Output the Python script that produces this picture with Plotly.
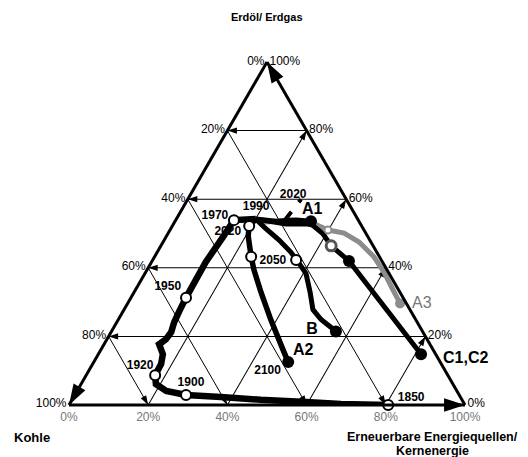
import plotly.graph_objects as go

FONT = "Liberation Sans, Arial, sans-serif"

# ---- data: (Erdöl/Erdgas, Kohle, Erneuerbare/Kernenergie) in % ----
hist_oil  = [0.0, 0.3, 0.9, 1.5, 2.3, 2.9, 4.1, 6.1, 8.7, 11.9, 14.8, 17.7, 19.1, 21.2, 24.1, 27.2, 31.3, 41.7, 49.0, 53.9, 54.2]
hist_coal = [19.4, 31.2, 39.7, 50.8, 60.5, 69.0, 73.4, 75.0, 73.9, 70.8, 68.9, 68.4, 66.0, 63.6, 61.4, 58.6, 54.8, 44.6, 36.6, 31.4, 25.7]
hist_ren  = [80.6, 68.5, 59.4, 47.7, 37.2, 28.1, 22.5, 18.9, 17.4, 17.3, 16.3, 13.9, 14.9, 15.2, 14.5, 14.2, 13.9, 13.7, 14.4, 14.7, 20.1]
hist_years_oil  = [0.0, 2.9, 8.7, 31.3, 53.9]
hist_years_coal = [19.4, 69.0, 73.9, 54.8, 31.4]
hist_years_ren  = [80.6, 28.1, 17.4, 13.9, 14.7]

a2_oil  = [54.2, 52.2, 49.3, 43.2, 39.4, 32.8, 24.9, 16.8, 12.5]
a2_coal = [25.7, 28.4, 30.1, 32.4, 33.6, 35.1, 36.6, 37.8, 38.4]
a2_ren  = [20.1, 19.4, 20.6, 24.4, 27.0, 32.1, 38.5, 45.4, 49.1]

b_oil  = [54.2, 51.6, 48.1, 44.6, 41.7, 38.3, 32.8, 27.8, 24.9, 22.6, 21.4]
b_coal = [25.7, 24.7, 22.9, 21.7, 21.3, 21.0, 22.7, 24.5, 23.9, 22.5, 21.9]
b_ren  = [20.1, 23.7, 29.0, 33.7, 37.0, 40.7, 44.5, 47.7, 51.2, 54.9, 56.7]

a1_oil  = [54.2, 53.6, 53.9, 53.6]
a1_coal = [25.7, 20.9, 15.7, 12.1]
a1_ren  = [20.1, 25.5, 30.4, 34.3]
a1d_oil  = [53.6, 60.0]
a1d_coal = [18.9, 11.4]
a1d_ren  = [27.5, 28.6]

c_oil  = [54.2, 52.8, 52.8, 49.9, 46.4, 42.0, 14.8]
c_coal = [25.7, 18.8, 12.5, 10.9, 10.6, 8.3, 3.7]
c_ren  = [20.1, 28.4, 34.7, 39.2, 43.0, 49.7, 81.5]

a3_oil  = [53.3, 53.9, 53.3, 51.0, 50.1, 47.5, 43.2, 38.6, 33.6, 29.6]
a3_coal = [24.4, 17.0, 12.3, 9.1, 5.5, 3.0, 1.4, 1.1, 1.4, 1.6]
a3_ren  = [22.3, 29.1, 34.4, 39.9, 44.4, 49.5, 55.4, 60.3, 65.0, 68.8]

# open circles of scenarios (2020 / 2050)
open_oil  = [52.2, 43.2, 42.3]
open_coal = [28.4, 32.4, 21.5]
open_ren  = [19.4, 24.4, 36.2]
# filled end points (2100)
end_oil  = [12.5, 21.4, 53.6, 42.0, 14.8]
end_coal = [38.4, 21.9, 12.1, 8.3, 3.7]
end_ren  = [49.1, 56.7, 34.3, 49.7, 81.5]

# year labels (label centres)
yl_text = ["1850", "1900", "1920", "1950", "1970", "1990", "2020", "2020", "2050", "2100"]
yl_oil  = [2.0, 6.4, 11.3, 34.5, 55.1, 57.7, 50.4, 61.2, 42.0, 9.9]
yl_coal = [12.6, 66.0, 76.4, 57.8, 35.6, 23.9, 34.7, 12.8, 27.5, 44.9]
yl_ren  = [85.4, 27.6, 12.3, 7.7, 9.3, 18.4, 14.9, 26.0, 30.5, 45.2]

sc_text = ["A1", "A2", "B"]
sc_oil  = [56.8, 15.7, 22.0]
sc_coal = [10.2, 33.0, 27.6]
sc_ren  = [33.0, 51.3, 50.4]

ticks = [0, 20, 40, 60, 80, 100]
tick_text_rev = ["100%", "80%", "60%", "40%", "20%", "0%"]
grid_k = [20, 40, 60, 80]

fig = go.Figure()

def line(a, b, c, color="black", width=5, dash="solid"):
    fig.add_trace(go.Scatterternary(a=a, b=b, c=c, mode="lines",
                                    line=dict(color=color, width=width, dash=dash),
                                    hoverinfo="skip", cliponaxis=False))

# grid arrowheads
arr_a, arr_b, arr_c, arr_ang = [], [], [], []
for k in grid_k:
    arr_a.append(k); arr_b.append(100 - k); arr_c.append(0); arr_ang.append(270)   # horizontal lines -> left edge
    arr_a.append(0); arr_b.append(k); arr_c.append(100 - k); arr_ang.append(150)   # Kohle lines -> bottom
    arr_a.append(100 - k); arr_b.append(0); arr_c.append(k); arr_ang.append(30)    # renewables lines -> right edge
fig.add_trace(go.Scatterternary(a=arr_a, b=arr_b, c=arr_c, mode="markers",
                                marker=dict(symbol="arrow", size=10, angle=arr_ang, color="black", line=dict(width=0)),
                                hoverinfo="skip", cliponaxis=False))
# main edge arrowheads
fig.add_trace(go.Scatterternary(a=[100, 0, 0], b=[0, 100, 0], c=[0, 0, 100], mode="markers",
                                marker=dict(symbol="arrow", size=22, angle=[330, 210, 90], color="black", line=dict(width=0)),
                                hoverinfo="skip", cliponaxis=False))

# trajectories
line(hist_oil, hist_coal, hist_ren, width=6.5)
line(a3_oil, a3_coal, a3_ren, color="#8c8c8c", width=5)
line(c_oil, c_coal, c_ren, width=5)
line(a1_oil, a1_coal, a1_ren, width=5)
line(a1d_oil, a1d_coal, a1d_ren, width=4, dash="dash")
line(b_oil, b_coal, b_ren, width=5)
line(a2_oil, a2_coal, a2_ren, width=5.5)

# markers
fig.add_trace(go.Scatterternary(a=end_oil, b=end_coal, c=end_ren, mode="markers",
                                marker=dict(size=12, color="black"), hoverinfo="skip", cliponaxis=False))
fig.add_trace(go.Scatterternary(a=[a3_oil[-1]], b=[a3_coal[-1]], c=[a3_ren[-1]], mode="markers",
                                marker=dict(size=10, color="#8c8c8c"), hoverinfo="skip", cliponaxis=False))
fig.add_trace(go.Scatterternary(a=[a3_oil[3]], b=[a3_coal[3]], c=[a3_ren[3]], mode="markers",
                                marker=dict(size=7, color="white", line=dict(color="#8c8c8c", width=2)),
                                hoverinfo="skip", cliponaxis=False))
fig.add_trace(go.Scatterternary(a=[c_oil[4]], b=[c_coal[4]], c=[c_ren[4]], mode="markers",
                                marker=dict(size=10, color="white", line=dict(color="#555555", width=3)),
                                hoverinfo="skip", cliponaxis=False))
fig.add_trace(go.Scatterternary(a=hist_years_oil + open_oil, b=hist_years_coal + open_coal,
                                c=hist_years_ren + open_ren, mode="markers",
                                marker=dict(size=10, color="white", line=dict(color="black", width=2)),
                                hoverinfo="skip", cliponaxis=False))

# labels
fig.add_trace(go.Scatterternary(a=yl_oil, b=yl_coal, c=yl_ren, mode="text",
                                text=["<b>%s</b>" % t for t in yl_text], textposition="middle center",
                                textfont=dict(family=FONT, size=12, color="black"),
                                hoverinfo="skip", cliponaxis=False))
fig.add_trace(go.Scatterternary(a=sc_oil, b=sc_coal, c=sc_ren, mode="text",
                                text=["<b>%s</b>" % t for t in sc_text], textposition="middle center",
                                textfont=dict(family=FONT, size=16, color="black"),
                                hoverinfo="skip", cliponaxis=False))

axis_common = dict(tickmode="array", tickvals=ticks, ticktext=tick_text_rev,
                   linecolor="black", linewidth=3, showgrid=True, gridcolor="black", gridwidth=0.7,
                   ticks="", showline=True, title=dict(text=""))

W, H = 528, 457
ml, mr, mt, mb = 61, 71, 54, 60
PAGE_OFF = 7  # page offset of the figure inside the browser window

fig.update_layout(
    width=W, height=H,
    margin=dict(l=ml, r=mr, t=mt, b=mb),
    paper_bgcolor="white",
    showlegend=False,
    font=dict(family=FONT),
    ternary=dict(
        sum=100,
        bgcolor="white",
        aaxis=dict(tickfont=dict(size=12, color="black"), **axis_common),
        baxis=dict(tickfont=dict(size=12, color="#777777"), **axis_common),
        caxis=dict(tickfont=dict(size=12, color="black"), **axis_common),
    ),
)

# text placed at the reference's window positions (converted to paper fractions)
texts = [
    ("<b>Erdöl/ Erdgas</b>", 266, 16, 11, "black"),
    ("<b>Kohle</b>", 31, 437, 13, "black"),
    ("<b>Erneuerbare Energiequellen/</b>", 431, 436, 12.5, "black"),
    ("<b>Kernenergie</b>", 431, 450, 12.5, "black"),
    ("A3", 421, 301, 16, "#777777"),
    ("<b>C1,C2</b>", 464, 356, 16, "black"),
]
anns = []
for t, px, py, fs, col in texts:
    fx, fy = px - PAGE_OFF, py - PAGE_OFF
    anns.append(dict(text=t, x=(fx - ml) / (W - ml - mr), y=1 - (fy - mt) / (H - mt - mb),
                     xref="paper", yref="paper", showarrow=False, xanchor="center", yanchor="middle",
                     font=dict(size=fs, color=col, family=FONT)))
fig.update_layout(annotations=anns)

fig.write_html("out.html")
